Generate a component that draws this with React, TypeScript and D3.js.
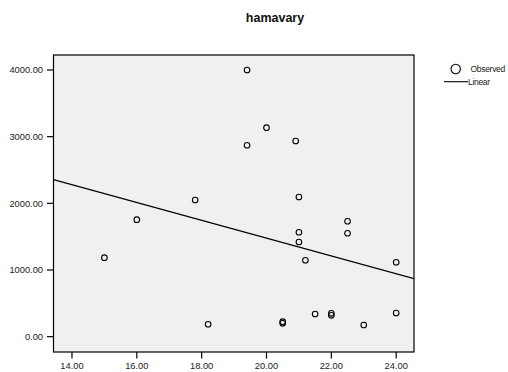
import React from 'react';
import * as d3 from 'd3';

const xValues = [15, 16, 17.8, 18.2, 19.4, 19.4, 20, 20.5, 20.5, 20.9, 21, 21, 21, 21.2, 21.5, 22, 22, 22.5, 22.5, 23, 24, 24];
const yValues = [1185, 1755, 2050, 186, 4000, 2871, 3135, 225, 200, 2935, 2095, 1566, 1420, 1146, 340, 350, 320, 1731, 1551, 175, 1116, 355];
const xTicks = [14, 16, 18, 20, 22, 24];
const yTicks = [0, 1000, 2000, 3000, 4000];
const title = 'hamavary';
const legendLabels = ['Observed', 'Linear'];

const font = '"Liberation Sans", Arial, sans-serif';

const App = () => {
  const width = 508;
  const height = 372;
  const frame = { left: 53.5, top: 55, right: 414, bottom: 352 };

  const xScale = d3.scaleLinear().domain([13.43, 24.55]).range([frame.left, frame.right]);
  const yScale = d3.scaleLinear().domain([-230, 4225]).range([frame.bottom, frame.top]);

  // least squares fit
  const mx = d3.mean(xValues) as number;
  const my = d3.mean(yValues) as number;
  const sxy = d3.sum(xValues, (x, i) => (x - mx) * (yValues[i] - my));
  const sxx = d3.sum(xValues, x => (x - mx) ** 2);
  const slope = sxy / sxx;
  const intercept = my - slope * mx;
  const [x0, x1] = xScale.domain();
  const fitLine = d3.line<number>()
    .x(x => xScale(x))
    .y(x => yScale(intercept + slope * x))([x0, x1]);

  return (
    <div style={{ position: 'absolute', left: 0, top: 0 }}>
      <svg width={width} height={height} style={{ display: 'block' }}>
        <rect width={width} height={height} fill="#ffffff" />
        <text x={275} y={22} textAnchor="middle" fontFamily={font} fontWeight="bold" fontSize={12.5} fill="#111">{title}</text>

        <defs>
          <clipPath id="plotClip">
            <rect x={frame.left} y={frame.top} width={frame.right - frame.left} height={frame.bottom - frame.top} />
          </clipPath>
        </defs>
        <rect x={frame.left} y={frame.top} width={frame.right - frame.left} height={frame.bottom - frame.top} fill="#f0f0f0" stroke="#000" strokeWidth={1.2} />

        {/* Y axis */}
        {yTicks.map(t => (
          <g key={`y-${t}`}>
            <line x1={frame.left - 6.5} x2={frame.left} y1={yScale(t)} y2={yScale(t)} stroke="#000" strokeWidth={1.2} />
            <text x={frame.left - 10.5} y={yScale(t)} dy="0.35em" textAnchor="end" fontFamily={font} fontSize={9.3} fill="#222">{t.toFixed(2)}</text>
          </g>
        ))}

        {/* X axis */}
        {xTicks.map(t => (
          <g key={`x-${t}`}>
            <line x1={xScale(t)} x2={xScale(t)} y1={frame.bottom} y2={frame.bottom + 6.5} stroke="#000" strokeWidth={1.2} />
            <text x={xScale(t)} y={frame.bottom + 17} textAnchor="middle" fontFamily={font} fontSize={9.3} fill="#222">{t.toFixed(2)}</text>
          </g>
        ))}

        <g clipPath="url(#plotClip)">
          <path d={fitLine ?? ''} fill="none" stroke="#000" strokeWidth={1.2} />
          {xValues.map((x, i) => (
            <circle key={i} cx={xScale(x)} cy={yScale(yValues[i])} r={2.8} fill="none" stroke="#000" strokeWidth={1.1} />
          ))}
        </g>

        {/* Legend */}
        <circle cx={455.7} cy={69} r={4.7} fill="none" stroke="#000" strokeWidth={1.1} />
        <text x={470.5} y={69} dy="0.35em" fontFamily={font} fontSize={8.5} letterSpacing={-0.3} fill="#222">{legendLabels[0]}</text>
        <line x1={444} x2={468} y1={81.7} y2={81.7} stroke="#000" strokeWidth={1.1} />
        <text x={468} y={81.7} dy="0.35em" fontFamily={font} fontSize={8.5} letterSpacing={-0.3} fill="#222">{legendLabels[1]}</text>
      </svg>
    </div>
  );
};

export default App;
